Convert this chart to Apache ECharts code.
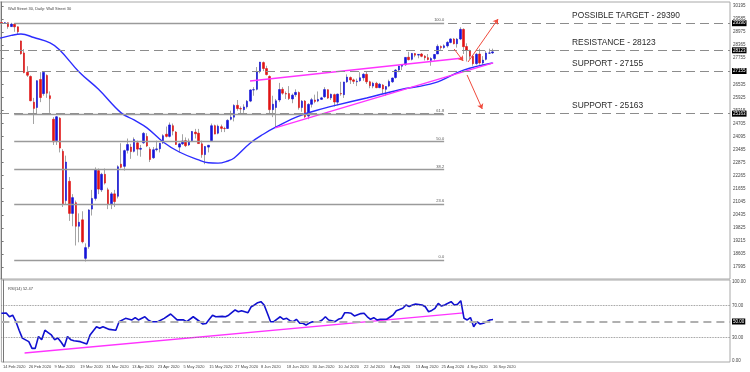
<!DOCTYPE html>
<html><head><meta charset="utf-8">
<script src="https://cdn.jsdelivr.net/npm/echarts@6/dist/echarts.min.js"></script>
<style>html,body{margin:0;padding:0;background:#fff}#c{width:750px;height:372px}</style>
</head><body><div id="c"></div>
<script>
// ---------- data ----------
const tickLabels = ['14 Feb 2020','26 Feb 2020','9 Mar 2020','19 Mar 2020','31 Mar 2020','13 Apr 2020','23 Apr 2020','5 May 2020','15 May 2020','27 May 2020','8 Jun 2020','18 Jun 2020','30 Jun 2020','10 Jul 2020','22 Jul 2020','3 Aug 2020','13 Aug 2020','25 Aug 2020','4 Sep 2020','16 Sep 2020'];

const openP = [29420,29398,29410,29232,29348,29219,28560,28000,27100,26900,25700,25450,26760,26100,26950,26000,24900,23900,24950,23400,21100,22000,20500,21000,19900,20200,18400,18950,20700,21200,22500,21600,22327,21600,20943,21413,21300,22800,22700,23450,23600,23400,23800,23500,23800,24100,23500,23100,23480,23520,23800,24200,24100,24600,24300,23600,23750,23900,23700,23900,24300,24250,23750,23250,23600,23900,24600,24250,24550,24470,24470,24900,25000,25550,25400,25350,25480,25750,26270,26300,27150,27550,27270,26900,25350,25450,25800,26300,26100,26100,25850,26050,26150,25450,25750,25050,25600,25800,25750,25830,25950,26280,25900,26050,25700,26100,26050,26650,26850,26740,26650,26700,26840,27000,26650,26450,26580,26380,26500,26300,26450,26650,26850,27200,27380,27450,27800,27700,27970,27900,27950,27850,27780,27650,27740,27950,28300,28250,28330,28490,28650,28430,28650,29100,28300,28100,27850,27500,27950,27530,27700,27990,28000];
const highP = [29460,29440,29420,29410,29380,29240,28580,28180,27380,26950,25900,26720,27100,27100,27000,26200,25000,25050,25000,23500,23200,22200,21400,21100,20500,20600,19100,20700,21600,22650,22600,22400,22600,21700,21500,21600,22750,23780,23480,24000,23750,24050,23900,23700,24300,24250,23600,23600,23900,23800,24200,24560,24750,24700,24350,23800,24200,24050,24000,24350,24450,24450,23900,23650,23700,24700,24650,24650,24650,24550,24900,25300,25600,25800,25500,25600,25800,26300,26400,27340,27580,27600,27400,26950,26000,25850,26600,26400,26200,26450,26100,26300,26200,25800,25800,25650,25900,26050,26200,25950,26400,26300,26100,26100,26100,26650,26650,27000,26900,26800,26800,27100,27050,27150,26700,26650,26650,26600,26550,26450,26750,26850,27250,27400,27480,27800,28050,28000,28000,27950,28000,27900,27950,27800,27950,28400,28350,28400,28550,28680,28700,28700,29200,29150,28450,28150,27900,28000,28200,27850,28100,28200,28200];
const lowP = [29330,29370,29130,29220,28990,28870,27920,27050,26880,25740,24680,25100,25700,26000,25900,25200,23700,23700,23350,20800,20900,20150,19900,19000,19150,19100,18250,18850,20400,21100,21400,21500,21850,20700,20700,20800,21200,22600,22500,23300,23050,23350,23200,23150,23750,23600,22900,23050,23400,23350,23750,24050,24050,24150,23700,23350,23700,23600,23650,23850,24000,23750,23100,22800,23350,23850,24200,24200,24300,24300,24450,24850,24800,25300,25100,25200,25400,25700,26000,26250,27050,27150,26950,25100,25000,24500,25700,26050,25850,25800,25650,25950,25350,25250,24950,24900,25450,25650,25700,25800,25900,25850,25800,25500,25550,26000,25900,26600,26550,26550,26450,26650,26700,26550,26350,26350,26350,26350,26100,26000,26400,26600,26800,27100,27200,27400,27650,27650,27800,27750,27800,27650,27650,27400,27650,27950,28150,28200,28250,28450,28400,28250,28600,27950,27600,27700,27400,27450,27450,27450,27650,27950,27950];
const closeP = [29398,29410,29232,29348,29219,28992,27961,27081,26957,25766,25409,26703,25917,27091,26121,25865,23851,25018,23553,20950,22900,20500,21237,19899,20087,19174,18900,20660,21200,22552,21637,22327,21917,20943,21413,21053,22680,22654,23434,23719,23390,23950,23505,23538,24242,23650,23019,23475,23516,23775,24134,24101,24634,24346,23724,23750,23883,23665,23876,24331,24222,23765,23248,23625,23685,24597,24207,24576,24474,24465,24850,24995,25548,25401,25383,25475,25742,26270,26282,27111,27572,27272,26990,25350,25606,25763,26290,26120,26080,25871,26025,26156,25445,25746,25016,25596,25813,25735,25827,25900,26287,25890,26067,25707,26075,26086,26643,26870,26735,26672,26681,26840,27005,26652,26470,26584,26379,26540,26314,26428,26664,26828,27201,27387,27433,27791,27686,27977,27896,27931,27844,27778,27692,27739,27930,28308,28249,28332,28492,28654,28430,28645,29100,28292,28133,27850,27500,27940,27535,27666,27993,28000,28050];

// moving average: [bar index, price]
const maPoints = [[-0.5,28690],[3,28820],[6,28885],[10,28720],[15,28470],[18,28140],[24,27110],[30,26300],[37,25200],[41,24870],[45,24500],[50,23840],[55,23370],[61,23000],[64,22870],[67,22850],[70,22950],[72,23090],[77,23790],[81,24200],[85,24540],[92,25050],[100,25420],[103,25540],[113,25895],[123,26270],[134,26600],[143,27200],[152,27530]];

// RSI(14): [bar index, value]
const rsiPoints = [[-0.5,60.4],[1,60.7],[2,56],[3,58],[4,50],[5,39],[6,29],[8,24.5],[9,16],[10,16],[11,31],[12,27],[13,39],[14,36],[15,33],[16,27],[17,29],[18,24],[19,18],[20,31],[21,27],[22,25.7],[24,24.5],[26,21.5],[27,33],[29,43.4],[30,41.4],[31,43.4],[33,40],[35,39],[36,49.7],[38,54],[40,52],[41,55],[42,52],[44,56],[45,52],[46,49.7],[48,49.7],[50,54],[52,59.5],[54,52],[56,52],[57,49.7],[59,56],[61,50],[62,46.8],[63,47.5],[64,52.8],[65,58],[66,56],[68,56.5],[69,56],[70,58],[72,64.6],[73,62.4],[74,63.7],[76,61.1],[77,68.7],[78,70.9],[79,73.8],[80,75.1],[81,70.9],[82,60.4],[83,49.7],[84,49.7],[85,53],[86,56],[87,52.8],[88,54],[89,51],[90,49.7],[91,52.8],[92,48],[93,47.7],[94,45.6],[95,48],[96,49.7],[97,49.5],[98,49.7],[99,51.9],[100,56],[101,51.9],[102,51],[103,49.7],[104,52.8],[105,54],[106,61.1],[107,61],[108,60.4],[109,57],[111,60],[112,60.4],[113,56],[114,52.8],[115,54.8],[116,52],[117,52.8],[119,52.8],[121,58.2],[122,63.7],[124,66.7],[125,70.9],[126,69],[127,70.9],[128,72.2],[130,70.9],[131,68.7],[132,62.4],[133,64],[134,66.7],[135,73],[136,69.6],[137,71],[138,73],[139,75.1],[140,70.9],[141,71.8],[142,76.3],[143,54],[144,52],[145,55],[146,43.4],[147,49.7],[148,46.8],[149,47.7],[150,49.7],[151,51.9],[152,52.5]];

const levels = [29390, 28123, 27155, 25163];
const levelNames = ['POSSIBLE TARGET - 29390', 'RESISTANCE - 28123', 'SUPPORT - 27155', 'SUPPORT - 25163'];
const fibLow = 18310, fibHigh = 29390;
const fibRatios = [0, 23.6, 38.2, 50, 61.8, 100];
const priceTicks = [17995,18605,19215,19825,20435,21045,21655,22265,22875,23485,24095,24705,25315,25925,26535,27755,28365,28975,29585,30195];
const rsiTicks = [0, 30, 50, 70, 100];
const upperTrend = [[76.9,26689],[142.9,27764]];
const lowerTrend = [[84.7,24492],[152.2,27530]];
const rsiTrend = [[6.7,10.1],[142.9,60.8]];
const arrows = [[[140.1,28184],[142.9,27623]],[[144.4,27577],[153.7,29587]],[[144.1,26969],[148.8,25380]]];
const rsiLast = '52.47';

// ---------- chart ----------
const N = 226;
const cats = Array.from({length: N}, (_, i) => String(i));
const wickData = openP.map((o, i) => [o, closeP[i], lowP[i], highP[i]]);
const bodyData = openP.map((o, i) => [o, closeP[i], Math.min(o, closeP[i]), Math.max(o, closeP[i])]);
const fibStart = 3.9, fibEnd = 137, annotBar = 176.6;
const small = {fontSize: 4.5, color: '#444', fontFamily: 'Liberation Sans'};

const chart = echarts.init(document.getElementById('c'), null, {renderer: 'canvas'});
chart.setOption({
  animation: false,
  backgroundColor: '#fff',
  title: [
    {text: 'Wall Street 30, Daily: Wall Street 30', left: 3, top: 2, textStyle: {fontSize: 4, color: '#444', fontWeight: 'normal', fontFamily: 'Liberation Sans'}},
    {text: 'RSI(14) ' + rsiLast, left: 3, top: 282, textStyle: {fontSize: 4, color: '#444', fontWeight: 'normal', fontFamily: 'Liberation Sans'}}
  ],
  grid: [
    {left: 0, top: 2, width: 730, height: 277, show: true, borderColor: '#a8a8a8', borderWidth: 1},
    {left: 0, top: 280, width: 730, height: 82, show: true, borderColor: '#a8a8a8', borderWidth: 1}
  ],
  xAxis: [
    {type: 'category', gridIndex: 0, data: cats, boundaryGap: true, show: false},
    {type: 'value', gridIndex: 0, min: -0.5, max: N - 0.5, show: false},
    {type: 'category', gridIndex: 1, data: cats, boundaryGap: true,
     axisLine: {show: false}, axisTick: {show: false},
     axisLabel: {interval: (idx) => idx % 8 === 0 && idx / 8 < tickLabels.length,
                 formatter: (v, idx) => tickLabels[idx / 8] || '', align: 'left', fontSize: 4, color: '#444', margin: 3, fontFamily: 'Liberation Sans'}},
    {type: 'value', gridIndex: 1, min: -0.5, max: N - 0.5, show: false}
  ],
  yAxis: [
    {type: 'value', gridIndex: 0, position: 'right', min: 17434, max: 30381, splitLine: {show: false},
     axisLine: {show: true, lineStyle: {color: '#777'}},
     axisTick: {show: true, length: 2, customValues: priceTicks, lineStyle: {color: '#777'}},
     axisLabel: {customValues: priceTicks, margin: 3, formatter: (v) => String(Math.round(v)), ...small}},
    {type: 'value', gridIndex: 1, position: 'right', min: -1.27, max: 102.53, splitLine: {show: false},
     axisLine: {show: true, lineStyle: {color: '#777'}}, axisTick: {show: false}, axisLabel: {show: false}}
  ],
  series: [
    {type: 'line', xAxisIndex: 1, yAxisIndex: 0, data: [], silent: true,
     markLine: {silent: true, symbol: 'none',
       lineStyle: {type: [9, 5], color: '#8c8c8c', width: 1.2},
       label: {show: true, position: 'end', distance: 2, color: '#fff', backgroundColor: '#000', fontSize: 4.5, padding: [1, 1, 0, 1], fontFamily: 'Liberation Sans', formatter: (p) => String(p.value)},
       data: levels.map(v => ({yAxis: v}))},
     markPoint: {silent: true, symbol: 'circle', symbolSize: 0,
       label: {show: true, position: 'right', distance: 0, offset: [0, -7.5], fontSize: 8.4, color: '#2a2a2a', fontFamily: 'Liberation Sans', formatter: '{b}'},
       data: levels.map((v, i) => ({name: levelNames[i], coord: [annotBar, v]}))}
    },
    {type: 'line', xAxisIndex: 1, yAxisIndex: 0, data: [], silent: true,
     markLine: {silent: true, symbol: 'none',
       lineStyle: {type: 'solid', color: '#9a9a9a', width: 1.3},
       label: {show: true, position: 'insideEndTop', distance: [0, 1], fontSize: 4, color: '#555', fontFamily: 'Liberation Sans', formatter: '{b}'},
       data: fibRatios.map(r => {
         const p = fibLow + (fibHigh - fibLow) * r / 100;
         return [{name: r.toFixed(1), coord: [fibStart, p]}, {coord: [fibEnd, p]}];
       })}
    },
    {type: 'candlestick', xAxisIndex: 0, yAxisIndex: 0, data: wickData, barWidth: 1,
     itemStyle: {color: '#a4a4a4', color0: '#a4a4a4', borderColor: '#a4a4a4', borderColor0: '#a4a4a4', borderWidth: 1}},
    {type: 'candlestick', xAxisIndex: 0, yAxisIndex: 0, data: bodyData, barWidth: 2,
     itemStyle: {color: '#1414d8', color0: '#e01414', borderColor: '#1414d8', borderColor0: '#e01414', borderWidth: 0.6}},
    {type: 'line', xAxisIndex: 1, yAxisIndex: 0, data: maPoints, smooth: 0.4, showSymbol: false, silent: true,
     lineStyle: {color: '#2d2dff', width: 1.4}},
    {type: 'line', xAxisIndex: 1, yAxisIndex: 0, data: upperTrend, showSymbol: false, silent: true,
     lineStyle: {color: '#ff33ff', width: 1.3}},
    {type: 'line', xAxisIndex: 1, yAxisIndex: 0, data: lowerTrend, showSymbol: false, silent: true,
     lineStyle: {color: '#ff33ff', width: 1.3},
     markLine: {silent: true, symbol: ['none', 'arrow'], symbolSize: 5,
       lineStyle: {type: 'solid', color: '#f04a3c', width: 1}, label: {show: false},
       data: arrows.map(a => [{coord: a[0]}, {coord: a[1]}])}},
    {type: 'line', xAxisIndex: 3, yAxisIndex: 1, data: [], silent: true,
     markLine: {silent: true, symbol: 'none',
       label: {show: true, position: 'end', distance: 2, ...small, formatter: (p) => Number(p.value).toFixed(2)},
       data: rsiTicks.map(v => {
         if (v === 50) return {yAxis: v, lineStyle: {type: [8, 5], color: '#b0b0b0', width: 2},
           label: {color: '#fff', backgroundColor: '#000', padding: [1, 1, 0, 1]}};
         if (v === 30 || v === 70) return {yAxis: v, lineStyle: {type: 'dotted', color: '#777', width: 0.8}};
         return {yAxis: v, lineStyle: {type: 'solid', color: 'rgba(255,255,255,0)', width: 1}};
       })}
    },
    {type: 'line', xAxisIndex: 3, yAxisIndex: 1, data: rsiTrend, showSymbol: false, silent: true,
     lineStyle: {color: '#ff33ff', width: 1.3}},
    {type: 'line', xAxisIndex: 3, yAxisIndex: 1, data: rsiPoints, showSymbol: false, silent: true,
     lineStyle: {color: '#1010d0', width: 1.6}}
  ]
});
</script></body></html>
